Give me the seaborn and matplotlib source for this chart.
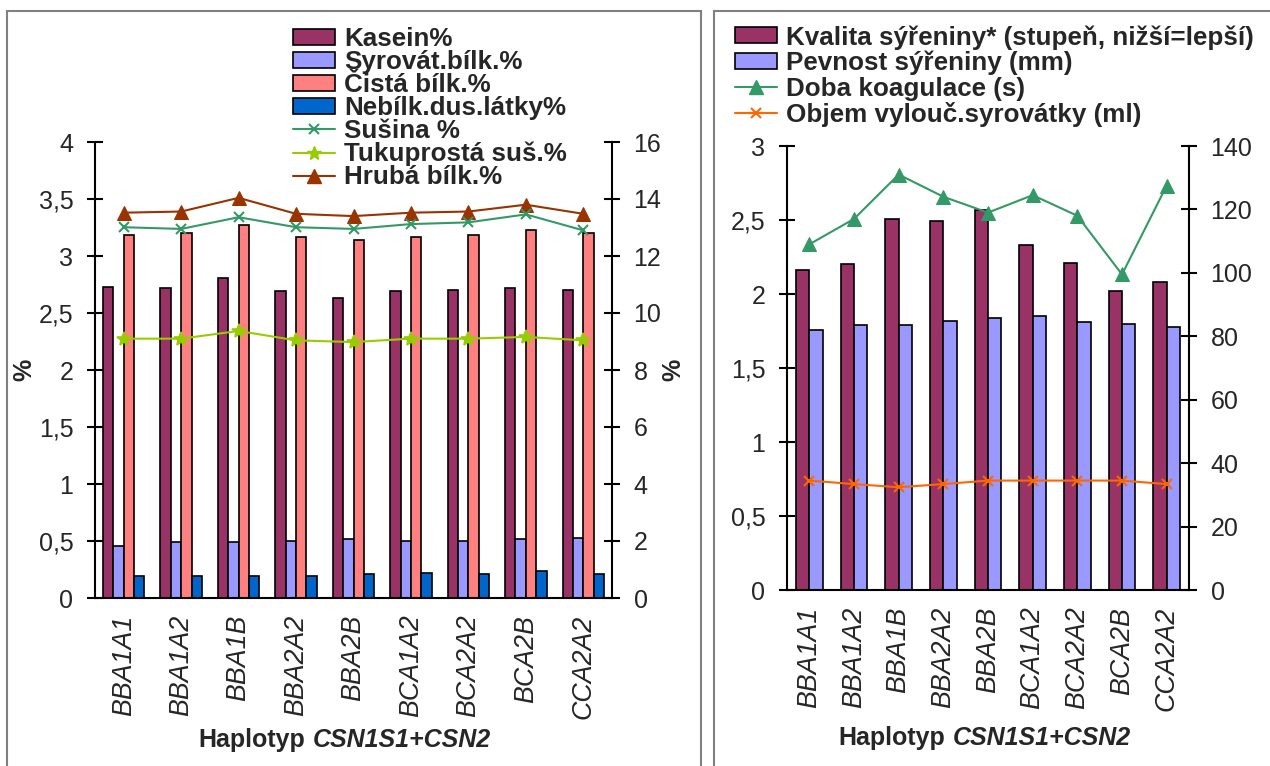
import numpy as np
import pandas as pd
import matplotlib
matplotlib.use('Agg')
import matplotlib.pyplot as plt
import seaborn as sns
from matplotlib.patches import Patch, Rectangle
from matplotlib.lines import Line2D
from matplotlib.ticker import FuncFormatter, MultipleLocator
from matplotlib.offsetbox import AnchoredOffsetbox, HPacker, TextArea

# ---------------- data ----------------
haplotypes = ['BBA1A1', 'BBA1A2', 'BBA1B', 'BBA2A2', 'BBA2B', 'BCA1A2', 'BCA2A2', 'BCA2B', 'CCA2A2']

kasein = [2.73, 2.72, 2.81, 2.69, 2.63, 2.69, 2.70, 2.72, 2.70]
syrovat = [0.46, 0.49, 0.49, 0.50, 0.52, 0.50, 0.50, 0.52, 0.53]
cista = [3.18, 3.20, 3.27, 3.17, 3.14, 3.17, 3.18, 3.23, 3.20]
nebilk = [0.19, 0.19, 0.19, 0.19, 0.21, 0.22, 0.21, 0.24, 0.21]
susina = [13.01, 12.95, 13.36, 13.01, 12.95, 13.12, 13.18, 13.46, 12.90]
tukuprosta = [9.10, 9.10, 9.37, 9.04, 8.98, 9.10, 9.10, 9.16, 9.04]
hruba = [3.38, 3.39, 3.51, 3.37, 3.35, 3.38, 3.39, 3.45, 3.37]

kvalita = [2.16, 2.20, 2.51, 2.49, 2.57, 2.33, 2.21, 2.02, 2.08]
pevnost = [1.76, 1.79, 1.79, 1.82, 1.84, 1.85, 1.81, 1.80, 1.78]
doba = [109, 117, 131, 124, 119, 124.5, 118, 99.5, 127.5]
objem = [34.5, 33.4, 32.4, 33.4, 34.5, 34.5, 34.5, 34.5, 33.4]

left_bar_names = ['Kasein%', 'Syrovát.bílk.%', 'Čistá bílk.%', 'Nebílk.dus.látky%']
left_bar_colors = ['#993366', '#9999FF', '#FF8080', '#0066CC']
right_bar_names = ['Kvalita sýřeniny* (stupeň, nižší=lepší)', 'Pevnost sýřeniny (mm)']
right_bar_colors = ['#993366', '#9999FF']

# ---------------- style ----------------
sns.set_theme(style='white')
plt.rcParams['font.family'] = ['Liberation Sans', 'DejaVu Sans']
plt.rcParams['axes.linewidth'] = 1.5

W, H = 1270, 766
fig = plt.figure(figsize=(W / 100, H / 100), dpi=100)
fig.patch.set_facecolor('white')

def fx(px):
    return px / W

def fy(py):
    return 1 - py / H

comma = FuncFormatter(lambda v, p: f'{v:g}'.replace('.', ','))

TICK_FS = 18
XT_FS = 19.3
LEG_FS = 18.7
LAB_FS = 18


def style_axes(ax, ax2, n):
    ax.set_xlim(-0.5, n - 0.5)
    ax.set_xticks(np.arange(n))
    ax.set_xticklabels(haplotypes, rotation=90, style='italic', fontsize=XT_FS)
    ax.set_xticks(np.arange(-0.5, n, 1), minor=True)
    ax.tick_params(axis='x', which='major', length=0, pad=12)
    ax.tick_params(axis='x', which='minor', direction='inout', length=11, width=1.5, color='black')
    ax.tick_params(axis='y', which='major', direction='inout', length=11, width=1.5,
                   labelsize=TICK_FS, pad=10, left=True, color='black')
    ax2.tick_params(axis='y', which='major', direction='inout', length=11, width=1.5,
                    labelsize=TICK_FS, pad=10, right=True, color='black')
    ax.set_xlabel('')
    for s in ['top', 'right']:
        ax.spines[s].set_visible(False)
    for s in ['top', 'left', 'bottom']:
        ax2.spines[s].set_visible(False)
    for s in ['left', 'bottom']:
        ax.spines[s].set_color('black')
    ax2.spines['right'].set_color('black')
    ax.yaxis.set_major_formatter(comma)
    ax2.yaxis.set_major_formatter(comma)
    ax.set_facecolor('none')


def xlabel(ax, xfrac, yfrac):
    t1 = TextArea('Haplotyp', textprops=dict(weight='bold', size=LAB_FS))
    t2 = TextArea('CSN1S1+CSN2', textprops=dict(weight='bold', style='italic', size=LAB_FS))
    box = HPacker(children=[t1, t2], pad=0, sep=5, align='baseline')
    ab = AnchoredOffsetbox(loc='upper center', child=box, pad=0, borderpad=0, frameon=False,
                           bbox_to_anchor=(xfrac, yfrac), bbox_transform=ax.transAxes)
    ax.add_artist(ab)


n = len(haplotypes)
x_idx = np.arange(n)

# ---------------- left chart ----------------
axL = fig.add_axes([fx(95), fy(598), fx(612) - fx(95), fy(142) - fy(598)])
dfL = pd.DataFrame({
    'Haplotyp': haplotypes * 4,
    'Znak': sum([[nm] * n for nm in left_bar_names], []),
    'Hodnota': kasein + syrovat + cista + nebilk,
})
sns.barplot(data=dfL, x='Haplotyp', y='Hodnota', hue='Znak', hue_order=left_bar_names,
            order=haplotypes, palette=left_bar_colors, saturation=1, width=0.72,
            edgecolor='black', linewidth=1.2, errorbar=None, legend=False, ax=axL)
sns.lineplot(x=x_idx, y=hruba, color='#993300', marker='^', markersize=10,
             markeredgecolor='#993300', linewidth=1.5, ax=axL, legend=False)
axL.set_ylim(0, 4)
axL.yaxis.set_major_locator(MultipleLocator(0.5))
axL.set_ylabel('%', fontsize=LAB_FS, weight='bold', labelpad=2)

axL2 = axL.twinx()
sns.lineplot(x=x_idx, y=susina, color='#339966', marker='x', markersize=7,
             markeredgewidth=1.5, markeredgecolor='#339966', linewidth=1.5, ax=axL2, legend=False)
sns.lineplot(x=x_idx, y=tukuprosta, color='#99CC00', marker='*', markersize=10,
             markeredgewidth=1.2, markeredgecolor='#99CC00', linewidth=1.5, ax=axL2, legend=False)
axL2.set_ylim(0, 16)
axL2.yaxis.set_major_locator(MultipleLocator(2))
axL2.set_ylabel('%', fontsize=LAB_FS, weight='bold', labelpad=0, rotation=90)
style_axes(axL, axL2, n)
xlabel(axL, (344.5 - 95) / 517, (598 - 728) / 456)

hL = [Patch(facecolor=c, edgecolor='black', linewidth=1.2) for c in left_bar_colors]
hL += [Line2D([], [], color='#339966', marker='x', markersize=7, markeredgewidth=1.5, linewidth=1.5),
       Line2D([], [], color='#99CC00', marker='*', markersize=10, linewidth=1.5),
       Line2D([], [], color='#993300', marker='^', markersize=10, linewidth=1.5)]
labL = left_bar_names + ['Sušina %', 'Tukuprostá suš.%', 'Hrubá bílk.%']
fig.legend(hL, labL, loc='upper left', bbox_to_anchor=(fx(293), fy(27)), frameon=False,
           borderpad=0, borderaxespad=0, handlelength=1.6, handleheight=0.57,
           handletextpad=0.38, labelspacing=-0.04, prop=dict(weight='bold', size=LEG_FS))

# ---------------- right chart ----------------
axR = fig.add_axes([fx(787), fy(590), fx(1189) - fx(787), fy(146) - fy(590)])
dfR = pd.DataFrame({
    'Haplotyp': haplotypes * 2,
    'Znak': sum([[nm] * n for nm in right_bar_names], []),
    'Hodnota': kvalita + pevnost,
})
sns.barplot(data=dfR, x='Haplotyp', y='Hodnota', hue='Znak', hue_order=right_bar_names,
            order=haplotypes, palette=right_bar_colors, saturation=1, width=0.59,
            edgecolor='black', linewidth=1.2, errorbar=None, legend=False, ax=axR)
axR.set_ylim(0, 3)
axR.yaxis.set_major_locator(MultipleLocator(0.5))
axR.set_ylabel('')

axR2 = axR.twinx()
sns.lineplot(x=x_idx, y=doba, color='#339966', marker='^', markersize=10,
             markeredgecolor='#339966', linewidth=1.5, ax=axR2, legend=False)
sns.lineplot(x=x_idx, y=objem, color='#FF6600', marker='x', markersize=7,
             markeredgewidth=1.5, markeredgecolor='#FF6600', linewidth=1.5, ax=axR2, legend=False)
axR2.set_ylim(0, 140)
axR2.yaxis.set_major_locator(MultipleLocator(20))
axR2.set_ylabel('')
style_axes(axR, axR2, n)
xlabel(axR, (984.7 - 787) / 402, (590 - 726) / 444)

hR = [Patch(facecolor=c, edgecolor='black', linewidth=1.2) for c in right_bar_colors]
hR += [Line2D([], [], color='#339966', marker='^', markersize=10, linewidth=1.5),
       Line2D([], [], color='#FF6600', marker='x', markersize=7, markeredgewidth=1.5, linewidth=1.5)]
labR = right_bar_names + ['Doba koagulace (s)', 'Objem vylouč.syrovátky (ml)']
fig.legend(hR, labR, loc='upper left', bbox_to_anchor=(fx(735), fy(25)), frameon=False,
           borderpad=0, borderaxespad=0, handlelength=1.6, handleheight=0.57,
           handletextpad=0.38, labelspacing=0.05, prop=dict(weight='bold', size=LEG_FS))

# ---------------- panel borders ----------------
fig.patches.append(Rectangle((fx(7), -0.02), fx(701) - fx(7), fy(11) + 0.02, transform=fig.transFigure,
                             fill=False, edgecolor='#808080', linewidth=1.5, zorder=0))
fig.patches.append(Rectangle((fx(714), -0.02), fx(1290) - fx(714), fy(11) + 0.02, transform=fig.transFigure,
                             fill=False, edgecolor='#808080', linewidth=1.5, zorder=0))

fig.savefig('out.png', dpi=100, facecolor='white')
